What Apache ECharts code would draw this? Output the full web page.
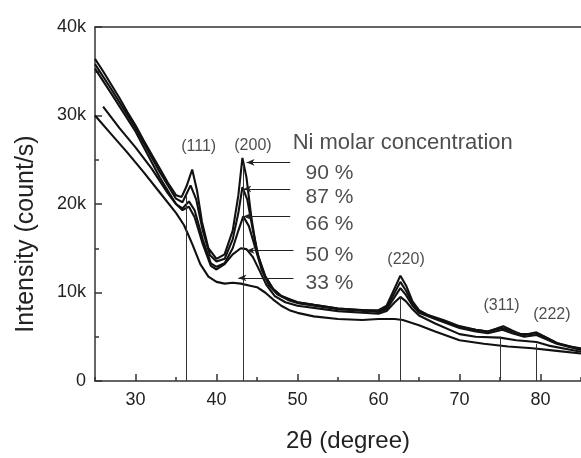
<!DOCTYPE html>
<html>
<head>
<meta charset="utf-8">
<script src="https://cdn.jsdelivr.net/npm/echarts@6/dist/echarts.min.js"></script>
<style>
html,body{margin:0;padding:0;background:#fff;}
#chart{width:581px;height:458px;}
</style>
</head>
<body>
<div id="chart"></div>
<script>
// Intensity in thousands of counts/s vs 2θ (degree)
var ni90 = [[25,36.4],[26,35.0],[27,33.5],[28,32.0],[29,30.4],[30,28.9],[31,27.2],[32,25.6],[33,24.0],[34,22.4],[35,21.0],[35.7,20.8],[36.3,22.0],[37.0,23.9],[37.6,21.5],[38.2,18.0],[39.0,15.0],[40.0,13.8],[41.0,14.3],[42.0,17.0],[42.7,21.0],[43.2,25.2],[43.7,23.0],[44.3,18.5],[45.0,14.5],[46.0,11.8],[47.0,10.4],[48.0,9.6],[49,9.2],[50,8.9],[52,8.6],[55,8.2],[58,8.0],[60,8.0],[61,8.5],[62,10.5],[62.7,11.9],[63.4,10.8],[64.2,9.0],[65,8.0],[66,7.5],[68,6.9],[70,6.2],[72,5.8],[73.5,5.6],[74.5,5.9],[75.4,6.2],[76.5,5.7],[77.5,5.3],[78.5,5.3],[79.5,5.5],[80.5,5.0],[82,4.3],[83.5,3.9],[85,3.7]];
var ni87 = [[25,35.8],[27,33.0],[30,28.6],[33,23.6],[35,20.6],[35.8,20.2],[36.8,22.1],[37.5,20.5],[38.3,17.0],[39.2,14.2],[40.0,13.5],[41.0,13.8],[42.0,16.0],[42.7,19.0],[43.2,21.9],[43.8,20.5],[44.5,17.0],[45.2,14.0],[46.0,11.9],[47.0,10.4],[48,9.6],[50,8.9],[55,8.2],[60,7.9],[61,8.3],[62,10.0],[62.7,11.2],[63.4,10.2],[64.2,8.8],[65,7.9],[67,7.1],[70,6.1],[72,5.8],[73.5,5.6],[75.3,6.0],[76.5,5.6],[78,5.2],[79.5,5.4],[80.5,5.0],[82,4.3],[85,3.6]];
var ni66 = [[25,35.3],[27,32.5],[30,28.2],[33,23.0],[35,20.0],[35.8,19.5],[36.6,20.3],[37.3,19.3],[38.3,16.0],[39.3,13.3],[40.0,12.9],[41.0,13.3],[42.0,15.0],[42.7,17.0],[43.3,18.6],[44.0,17.5],[44.8,15.0],[45.6,12.5],[46.5,10.8],[47.5,9.8],[49,9.1],[50,8.8],[55,8.1],[60,7.8],[61,8.1],[62,9.5],[62.7,10.5],[63.4,9.7],[64.2,8.5],[65,7.7],[67,7.0],[70,6.0],[72,5.6],[73.5,5.4],[75.3,5.8],[76.5,5.4],[78,5.0],[79.5,5.2],[80.5,4.8],[82,4.2],[85,3.5]];
var ni50 = [[26,31.0],[28,28.6],[30,26.4],[32,24.0],[34,21.2],[35,20.0],[35.8,19.3],[36.6,19.7],[37.3,18.5],[38.3,15.5],[39.3,13.0],[40.0,12.6],[41.0,13.2],[42.0,14.3],[43.0,15.0],[43.7,14.9],[44.5,14.0],[45.3,12.5],[46.2,10.8],[47.2,9.6],[48.5,8.9],[50,8.5],[55,7.9],[60,7.6],[61,7.9],[62,8.9],[62.7,9.5],[63.4,9.0],[64.2,8.1],[65,7.4],[67,6.5],[70,5.3],[72,5.0],[75,4.9],[77,4.6],[79.5,4.4],[81,4.0],[85,3.3]];
var ni33 = [[25,30.0],[27,27.9],[29,25.8],[31,23.6],[33,21.3],[35,19.0],[36,17.6],[37,15.5],[38,13.2],[39,11.8],[40,11.2],[41,11.0],[42,11.1],[43,11.0],[44,10.8],[45,10.6],[46,10.0],[47,9.2],[48,8.5],[49,8.0],[50,7.7],[52,7.3],[55,7.0],[58,6.9],[60,7.0],[62,7.0],[63,6.9],[65,6.3],[67,5.6],[70,4.6],[73,4.2],[76,3.9],[79,3.7],[82,3.4],[85,3.1]];

// peak reference lines: [2θ, height]
var peakPos = [36.3, 43.3, 62.65, 75.0, 79.5];
var peakTop = [21.0, 24.5, 9.5, 5.0, 4.2];
var peakNames = ['(111)', '(200)', '(220)', '(311)', '(222)'];
var peakLabelX = [37.8, 44.5, 63.4, 75.2, 81.4];
var peakLabelY = [26.5, 26.6, 13.7, 8.5, 7.55];

// concentration labels with arrows
var concNames = ['90 %', '87 %', '66 %', '50 %', '33 %'];
var concLabelY = [23.5, 20.8, 17.7, 14.2, 11.1];
var arrowY = [24.7, 21.7, 18.6, 14.75, 11.65];
var arrowFrom = [43.7, 43.3, 43.3, 43.7, 42.7];
var arrowTo = [49.1, 49.1, 49.1, 49.5, 49.5];

var xTicks = [30, 40, 50, 60, 70, 80];
var yTicks = ['0', '10k', '20k', '30k', '40k'];

var FONT = '"Liberation Sans", Arial, sans-serif';
var chart = echarts.init(document.getElementById('chart'));

function curve(d) {
  return {
    type: 'line', data: d, showSymbol: false, symbol: 'none',
    lineStyle: { color: '#111', width: 2.1 }, silent: true, z: 3
  };
}

var series = [curve(ni90), curve(ni87), curve(ni66), curve(ni50), curve(ni33)];

series.push({
  type: 'line', data: [], silent: true,
  markLine: {
    silent: true, animation: false, symbol: ['none', 'none'],
    label: { show: false },
    lineStyle: { color: '#333', width: 1, type: 'solid' },
    data: peakPos.map(function (p, i) { return [{ coord: [p, 0] }, { coord: [p, peakTop[i]] }]; })
  }
});
series.push({
  type: 'line', data: [], silent: true,
  markLine: {
    silent: true, animation: false, symbol: ['arrow', 'none'], symbolSize: [5, 8],
    label: { show: false },
    lineStyle: { color: '#222', width: 1.2, type: 'solid' },
    data: arrowY.map(function (y, i) { return [{ coord: [arrowFrom[i], y] }, { coord: [arrowTo[i], y] }]; })
  }
});
series.push({
  type: 'scatter', symbolSize: 0, silent: true,
  data: peakNames.map(function (n, i) { return [peakLabelX[i], peakLabelY[i], n]; }),
  label: {
    show: true, position: 'inside', formatter: function (p) { return p.value[2]; },
    color: '#222', fontSize: 16, fontFamily: FONT
  }
});
series.push({
  type: 'scatter', symbolSize: 0, silent: true,
  data: concNames.map(function (n, i) { return [51.0, concLabelY[i], n]; }),
  label: {
    show: true, position: 'right', distance: 0, align: 'left', verticalAlign: 'middle',
    formatter: function (p) { return p.value[2]; },
    color: '#222', fontSize: 21, fontFamily: FONT
  }
});
series.push({
  type: 'scatter', symbolSize: 0, silent: true,
  data: [[49.4, 26.9, 'Ni molar concentration']],
  label: {
    show: true, position: 'right', distance: 0, align: 'left', verticalAlign: 'middle',
    formatter: function (p) { return p.value[2]; },
    color: '#222', fontSize: 22, fontFamily: FONT
  }
});

chart.setOption({
  animation: false,
  backgroundColor: '#fff',
  grid: { left: 95, right: 0, top: 27, bottom: 75 },
  xAxis: [{
    type: 'value', min: 25, max: 85, minInterval: 10, maxInterval: 10,
    name: '2θ (degree)', nameLocation: 'middle', nameGap: 48,
    nameTextStyle: { fontSize: 24, color: '#222', fontFamily: FONT, padding: [0, 0, 0, 20] },
    axisLine: { show: true, onZero: false, lineStyle: { color: '#333', width: 1.5 } },
    axisTick: { show: true, inside: true, length: 7, lineStyle: { color: '#333', width: 1.5 } },
    axisLabel: {
      show: true, margin: 10, fontSize: 18, color: '#222', fontFamily: FONT,
      showMinLabel: false, showMaxLabel: false,
      formatter: function (v) { return xTicks.indexOf(v) >= 0 ? String(v) : ''; }
    },
    splitLine: { show: false }
  }, {
    type: 'value', min: 25, max: 85, interval: 5, position: 'bottom',
    axisLine: { show: false }, axisLabel: { show: false }, splitLine: { show: false },
    axisTick: { show: true, inside: true, length: 4, lineStyle: { color: '#333', width: 1.5 } }
  }, {
    type: 'value', min: 25, max: 85, position: 'top',
    axisLine: { show: true, onZero: false, lineStyle: { color: '#333', width: 1.5 } },
    axisTick: { show: false }, axisLabel: { show: false }, splitLine: { show: false }
  }],
  yAxis: {
    type: 'value', min: 0, max: 40, interval: 10,
    name: 'Intensity (count/s)', nameLocation: 'middle', nameGap: 56,
    nameTextStyle: { fontSize: 25, color: '#222', fontFamily: FONT, padding: [0, 60, 0, 0] },
    axisLine: { show: true, onZero: false, lineStyle: { color: '#333', width: 1.5 } },
    axisTick: { show: true, inside: true, length: 7, lineStyle: { color: '#333', width: 1.5 } },
    minorTick: { show: true, splitNumber: 2, length: 4, lineStyle: { color: '#333', width: 1.5 } },
    axisLabel: {
      show: true, margin: 9, fontSize: 18, color: '#222', fontFamily: FONT,
      formatter: function (v) { return yTicks[Math.round(v / 10)]; }
    },
    splitLine: { show: false }
  },
  series: series
});
</script>
</body>
</html>
